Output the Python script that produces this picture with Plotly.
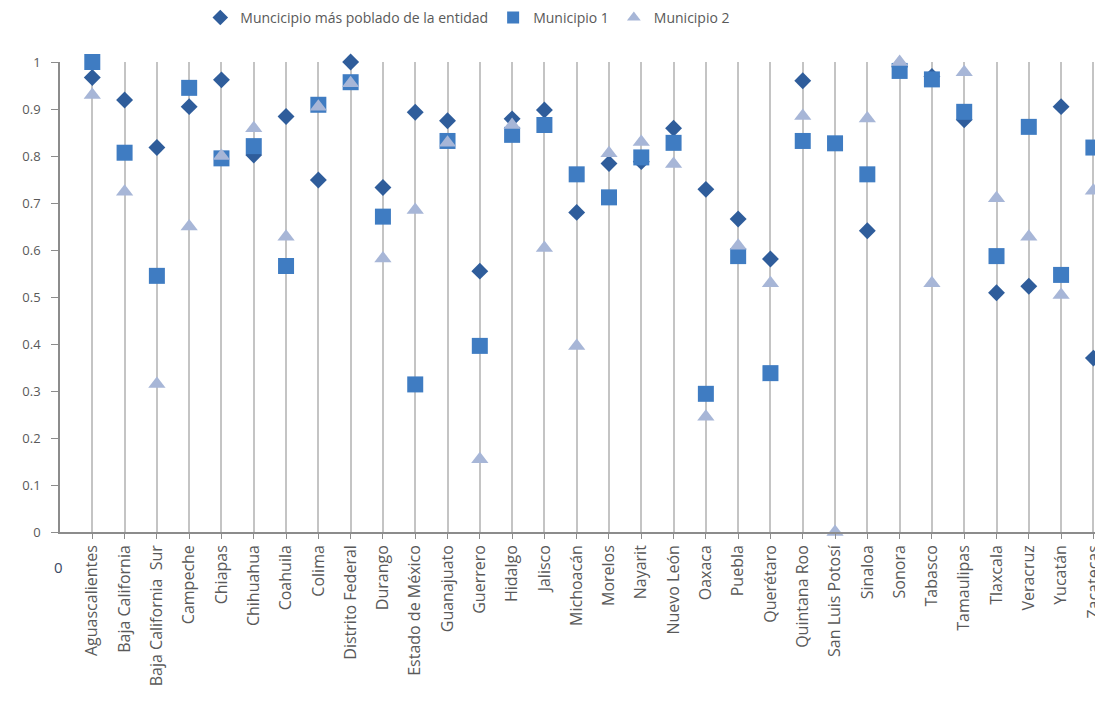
import plotly.graph_objects as go

# Entidades federativas
estados = [
    "Aguascalientes", "Baja California", "Baja California  Sur", "Campeche",
    "Chiapas", "Chihuahua", "Coahuila", "Colima", "Distrito Federal", "Durango",
    "Estado de México", "Guanajuato", "Guerrero", "Hidalgo", "Jalisco",
    "Michoacán", "Morelos", "Nayarit", "Nuevo León", "Oaxaca", "Puebla",
    "Querétaro", "Quintana Roo", "San Luis Potosí", "Sinaloa", "Sonora",
    "Tabasco", "Tamaulipas", "Tlaxcala", "Veracruz", "Yucatán", "Zacatecas",
]

mas_poblado = [
    0.967, 0.919, 0.818, 0.905, 0.962, 0.802, 0.884, 0.749, 1.000, 0.733,
    0.893, 0.875, 0.555, 0.879, 0.898, 0.680, 0.784, 0.788, 0.859, 0.729,
    0.666, 0.581, 0.960, None, 0.641, 0.990, 0.969, 0.877, 0.509, 0.523,
    0.905, 0.370,
]

municipio_1 = [
    1.000, 0.807, 0.545, 0.945, 0.795, 0.821, 0.566, 0.909, 0.957, 0.671,
    0.314, 0.832, 0.396, 0.845, 0.866, 0.761, 0.712, 0.797, 0.828, 0.294,
    0.587, 0.338, 0.832, 0.827, 0.761, 0.981, 0.963, 0.894, 0.587, 0.862,
    0.547, 0.818,
]

municipio_2 = [
    0.930, 0.724, 0.315, 0.650, 0.800, 0.859, 0.628, 0.905, 0.955, 0.582,
    0.685, 0.828, 0.155, 0.866, 0.604, 0.396, 0.806, 0.830, 0.783, 0.245,
    0.609, 0.529, 0.885, 0.000, 0.880, 1.000, 0.529, 0.978, 0.710, 0.628,
    0.504, 0.726,
]

posiciones = list(range(1, len(estados) + 1))

fig = go.Figure()

fig.add_trace(go.Scatter(
    x=posiciones, y=mas_poblado, mode="markers",
    name="Muncicipio más poblado de la entidad",
    marker=dict(symbol="diamond", size=13, color="#2F5D9B"),
    cliponaxis=False,
))
fig.add_trace(go.Scatter(
    x=posiciones, y=municipio_1, mode="markers",
    name="Municipio 1",
    marker=dict(symbol="square", size=16, color="#3F7CC2"),
    cliponaxis=False,
))
fig.add_trace(go.Scatter(
    x=posiciones, y=municipio_2, mode="markers",
    name="Municipio 2",
    marker=dict(symbol="triangle-up", size=15, color="#A7B6D7"),
    cliponaxis=False,
))

fig.add_annotation(
    x=0, y=0, xref="x", yref="y", text="0", showarrow=False,
    yshift=-35, xshift=-2, font=dict(size=15, color="#3A4A66"),
)

fig.update_layout(
    width=1095, height=716,
    margin=dict(l=60, r=0, t=62, b=184, autoexpand=False),
    paper_bgcolor="white", plot_bgcolor="white",
    font=dict(family="Open Sans", color="#595959"),
    showlegend=True,
    legend=dict(
        orientation="h", x=0.394, xanchor="center",
        yref="container", y=0.975, yanchor="middle",
        font=dict(size=14, color="#595959"),
        itemsizing="constant", itemwidth=30, tracegroupgap=0,
    ),
    xaxis=dict(
        range=[0, 32.05], tickvals=posiciones, ticktext=estados,
        tickangle=-90, tickfont=dict(size=16, color="#595959"),
        ticklabeloverflow="allow",
        showgrid=True, gridcolor="#C4C4C4", gridwidth=2,
        showline=True, linecolor="#8C8C8C", linewidth=1.5,
        ticks="outside", ticklen=5, tickcolor="#8C8C8C",
        zeroline=False,
    ),
    yaxis=dict(
        range=[0, 1], dtick=0.1, tick0=0,
        tickfont=dict(size=13, color="#595959"),
        ticklabelstandoff=8,
        showgrid=False, zeroline=False,
        showline=True, linecolor="#8C8C8C", linewidth=1.5,
        ticks="outside", ticklen=7, tickcolor="#8C8C8C",
    ),
)

fig.write_html("out.html")
